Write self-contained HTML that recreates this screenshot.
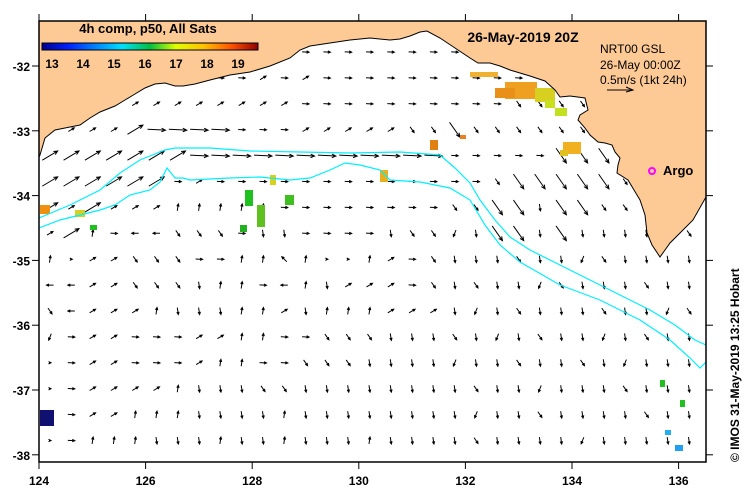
<!DOCTYPE html>
<html><head><meta charset="utf-8"><style>
html,body{margin:0;padding:0;background:#fff;}
svg{display:block;font-family:"Liberation Sans",sans-serif;}
</style></head><body>
<svg id="map" width="749" height="496" viewBox="0 0 749 496" xmlns="http://www.w3.org/2000/svg">
<defs>
<linearGradient id="jet" x1="0" x2="1" y1="0" y2="0">
<stop offset="0" stop-color="#00008f"/><stop offset="0.12" stop-color="#0020ff"/>
<stop offset="0.37" stop-color="#00e0ff"/><stop offset="0.5" stop-color="#00c040"/>
<stop offset="0.62" stop-color="#e0ff00"/><stop offset="0.75" stop-color="#ffc000"/>
<stop offset="0.88" stop-color="#ff5000"/><stop offset="1" stop-color="#900000"/>
</linearGradient>
<clipPath id="plotclip"><rect x="39" y="21" width="667" height="441"/></clipPath>
</defs>
<g id="arrows" clip-path="url(#plotclip)"></g>
<g id="sst" clip-path="url(#plotclip)"></g>
<g clip-path="url(#plotclip)">
<polyline fill="none" stroke="#00f0ff" stroke-width="1.2" points="39,218 70,205 100,190 120,173 140,160 165,150 175,148 210,148 250,151 300,152 350,153 400,152 440,155 455,168 470,183 480,200 495,220 510,237 530,250 560,265 590,280 620,295 650,310 675,325 695,340 706,345"/>
<polyline fill="none" stroke="#00f0ff" stroke-width="1.2" points="39,228 60,220 80,215 100,210 115,205 130,195 150,190 160,182 167,168 175,178 183,178 190,180 230,178 260,177 290,180 310,178 330,170 345,163 360,165 380,170 390,180 420,182 450,188 470,200 485,225 500,245 520,262 560,285 600,300 640,320 670,340 690,358 700,368 706,362"/>
<path fill="#fdca96" stroke="#000" stroke-width="1" d="M39,157 L40,155 45,138 55,130 80,125 90,118 100,112 115,106 125,100 135,94 145,88 155,84 165,83 175,86 183,86 195,84 210,80 230,75 250,72 270,66 290,58 300,50 310,46 330,43 350,40 370,38 390,40 400,39 410,36 420,32 427,31 440,38 455,48 470,58 478,63 490,63 500,66 510,70 520,73 530,76 545,81 555,90 560,97 570,96 585,98 588,110 580,115 578,120 585,128 590,135 598,142 605,143 612,145 615,152 620,158 618,165 617,173 628,180 640,200 645,215 647,233 652,245 660,257 665,250 670,243 680,233 693,220 706,197 L706,21 L39,21 Z"/>
</g>
<rect x="39" y="21" width="667" height="441" fill="none" stroke="#000" stroke-width="1.5"/>
<g id="axes" font-size="12" font-weight="bold" fill="#000"></g>
<g>
<text x="148" y="33" font-size="13" font-weight="bold" text-anchor="middle">4h comp, p50, All Sats</text>
<rect x="42" y="43" width="216" height="7" fill="url(#jet)" stroke="#000" stroke-width="1"/>
<g id="cbticks" font-size="12" font-weight="bold" text-anchor="middle"></g>
</g>
<text x="523" y="42" font-size="14" font-weight="bold" text-anchor="middle">26-May-2019 20Z</text>
<g font-size="12">
<text x="600" y="53">NRT00 GSL</text>
<text x="600" y="69">26-May 00:00Z</text>
<text x="600" y="84">0.5m/s (1kt 24h)</text>
<line x1="607" y1="90" x2="632" y2="90" stroke="#000" stroke-width="1"/>
<path d="M626,87 L633,90 L626,92" fill="none" stroke="#000"/>
</g>
<g>
<circle cx="652" cy="171" r="3" fill="none" stroke="#ff00ff" stroke-width="2"/>
<text x="663" y="175" font-size="13" font-weight="bold">Argo</text>
</g>
<text transform="translate(739,462) rotate(-90)" font-size="12" font-weight="bold">© IMOS 31-May-2019 13:25 Hobart</text>
</svg>
<script>
const lonTicks=[124,126,128,130,132,134,136];
const latTicks=[-32,-33,-34,-35,-36,-37,-38];
const cbLabels=[13,14,15,16,17,18,19];
// current vectors: numpad direction codes, digits short, letters A-I long
const vecRows=[
"6666666666666666666666666666666",
"9999996666969666666666666666666",
"9999999999996666666666333333333",
"9999IFFFF6669999933C33333333333",
"IIIIIIIFFFFFFFFFFFF66666CCC3333",
"IIIIII6966666666666663CCCCC3333",
"I9I999888886666666633CC2CC33333",
"9I8644333622666623312CC2C222233",
"8599333668878558963222322132222",
"4499333288648299963232213222322",
"3499982228892888999212322232213",
"1699666998866333222321232212322",
"5699666988663332222122322321222",
"5699998222332222222232212223222",
"5699888222282222222212232222322",
"5688822282282228222232222122222"];
const sstPatches=[
[505,82,32,17,"#f0a020"],[495,88,20,10,"#e89018"],[535,88,20,14,"#d8d020"],[545,100,10,8,"#c8e020"],
[470,72,28,5,"#f0b030"],[555,108,12,8,"#c0e020"],[563,142,18,12,"#f0b020"],[560,150,8,6,"#e0c020"],
[430,140,8,10,"#e08010"],[460,135,6,4,"#e88020"],[380,170,8,12,"#e8b020"],[270,175,6,10,"#d8d020"],
[245,190,8,16,"#20c020"],[257,205,8,22,"#60c020"],[240,225,7,7,"#20b020"],[285,195,9,10,"#40c020"],
[40,205,10,9,"#f09010"],[75,210,10,7,"#d8d020"],[90,225,7,5,"#20c020"],[660,380,5,7,"#20c020"],
[680,400,5,7,"#20c020"],[665,430,6,5,"#20b0f0"],[675,445,8,6,"#20a0f0"],[40,410,14,16,"#101070"]];
const NS="http://www.w3.org/2000/svg";
const xOf=l=>39+(l-124)*53.3, yOf=l=>66+(-32-l)*64.8;
const ax=document.getElementById('axes');
function mk(tag,attrs,parent){const e=document.createElementNS(NS,tag);for(const k in attrs)e.setAttribute(k,attrs[k]);parent.appendChild(e);return e;}
lonTicks.forEach(l=>{const x=xOf(l);
 const t1=mk('line',{x1:x,x2:x,y1:14,y2:21,stroke:'#000'},ax);
 
 
 const t2=mk('line',{x1:x,x2:x,y1:462,y2:469,stroke:'#000'},ax);
 
 
 const tx=mk('text',{x:x,y:485,'text-anchor':'middle'},ax);tx.textContent=l;
 
 });
latTicks.forEach(l=>{const y=yOf(l);
 const t1=mk('line',{x1:32,x2:39,y1:y,y2:y,stroke:'#000'},ax);
 
 
 const t2=mk('line',{x1:706,x2:713,y1:y,y2:y,stroke:'#000'},ax);
 
 
 const tx=mk('text',{x:30,y:y+5,'text-anchor':'end'},ax);tx.textContent=l;
 
 });
const cb=document.getElementById('cbticks');
cbLabels.forEach((v,i)=>{const t=mk('text',{x:52+i*31,y:68},cb);t.textContent=v;
 
 });
const sg=document.getElementById('sst');
sstPatches.forEach(p=>{const r=mk('rect',{x:p[0],y:p[1],width:p[2],height:p[3],fill:p[4]},sg);
 
 });
const dirs={1:[-0.4,1],2:[0.15,1],3:[0.7,1],4:[-1,0],5:[0,0],6:[1,0.05],7:[-1,-1],8:[0.15,-1],9:[1,-0.6]};
const ag=document.getElementById('arrows');
vecRows.forEach((row,j)=>{const cy=52+j*25.9;
 for(let i=0;i<row.length;i++){const c=row[i];let d,L;
  if(c>='A'&&c<='I'){d=dirs[c.charCodeAt(0)-64];L=18;}else{d=dirs[c];L=7;}
  if(!d)continue;const cx=50+i*21.3;
  let n=Math.hypot(d[0],d[1]);if(n===0){d=[1,0];n=1;L=2;}
  const ux=d[0]/n,uy=d[1]/n;
  const h=L>10?4:2.5,w=L>10?1.8:1.2;
  const x1=cx-ux*L/2,y1=cy-uy*L/2,x2=cx+ux*L/2,y2=cy+uy*L/2;
  const g=mk('path',{d:`M${x1},${y1}L${x2},${y2}M${x2-ux*h-uy*w},${y2-uy*h+ux*w}L${x2},${y2}L${x2-ux*h+uy*w},${y2-uy*h-ux*w}`,stroke:'#000','stroke-width':1,fill:'none'},ag);
  
  }});
</script>
</body></html>
